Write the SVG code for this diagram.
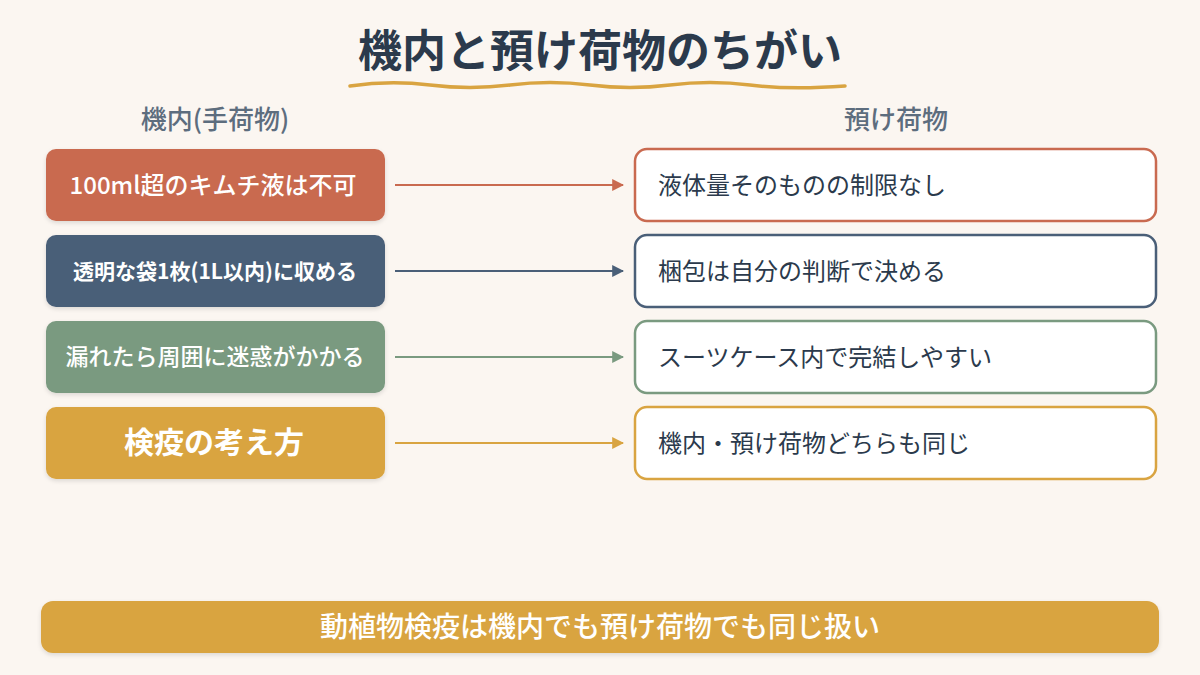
<svg xmlns="http://www.w3.org/2000/svg" width="1200" height="675" viewBox="0 0 1200 675">
<defs>
<filter id="sh" x="-10%" y="-20%" width="120%" height="150%"><feDropShadow dx="0" dy="2" stdDeviation="2" flood-color="#000" flood-opacity="0.12"/></filter>
<marker id="ar1" viewBox="0 0 10 10" refX="9" refY="5" markerWidth="6" markerHeight="6" orient="auto"><path d="M0,0 L10,5 L0,10 z" fill="#c96a50"/></marker>
<marker id="ar2" viewBox="0 0 10 10" refX="9" refY="5" markerWidth="6" markerHeight="6" orient="auto"><path d="M0,0 L10,5 L0,10 z" fill="#4a5f78"/></marker>
<marker id="ar3" viewBox="0 0 10 10" refX="9" refY="5" markerWidth="6" markerHeight="6" orient="auto"><path d="M0,0 L10,5 L0,10 z" fill="#7a9a80"/></marker>
<marker id="ar4" viewBox="0 0 10 10" refX="9" refY="5" markerWidth="6" markerHeight="6" orient="auto"><path d="M0,0 L10,5 L0,10 z" fill="#d9a441"/></marker>
</defs>
<style>
text{font-family:"Noto Sans CJK JP","Noto Sans",sans-serif;}
.title{font-size:44px;font-weight:700;fill:#2b3a4c;text-anchor:middle;}
.head{font-size:26px;font-weight:500;fill:#5d6d7e;text-anchor:middle;}
.lt{fill:#fff;text-anchor:middle;}
.w4{font-weight:400;}
.w5{font-weight:500;}
.w7{font-weight:700;}
.rbox{fill:#fff;stroke-width:2.5;}
.rt{font-size:24px;fill:#2b3a4c;font-weight:400;}
.conn{stroke-width:2;fill:none;}
</style>
<rect width="1200" height="675" fill="#fbf6f1"/>
<g id="title">
<text class="title" x="600" y="67">機内と預け荷物のちがい</text>
<path d="M350,86 Q390,80 430,85 T510,85 T590,85 T670,85 T750,85 T845,86" fill="none" stroke="#d9a441" stroke-width="3.5" stroke-linecap="round"/>
</g>
<g id="headers">
<text class="head" x="215" y="129">機内(手荷物)</text>
<text class="head" x="896" y="129">預け荷物</text>
</g>
<g id="left1"><rect x="46" y="149" width="339" height="72" rx="10" fill="#c96a50" filter="url(#sh)"/><text class="lt w5" x="213" y="194" font-size="24">100ml超のキムチ液は不可</text></g>
<g id="left2"><rect x="46" y="235" width="339" height="72" rx="10" fill="#4a5f78" filter="url(#sh)"/><text class="lt w7" x="215" y="279" font-size="21">透明な袋1枚(1L以内)に収める</text></g>
<g id="left3"><rect x="46" y="321" width="339" height="72" rx="10" fill="#7a9a80" filter="url(#sh)"/><text class="lt w5" x="215" y="365" font-size="23">漏れたら周囲に迷惑がかかる</text></g>
<g id="left4"><rect x="46" y="407" width="339" height="72" rx="10" fill="#d9a441" filter="url(#sh)"/><text class="lt w7" x="214" y="453" font-size="30">検疫の考え方</text></g>
<g id="right1"><rect class="rbox" x="635" y="149" width="521" height="72" rx="12" stroke="#c96a50"/><text class="rt" x="658" y="194">液体量そのものの制限なし</text></g>
<g id="right2"><rect class="rbox" x="635" y="235" width="521" height="72" rx="12" stroke="#4a5f78"/><text class="rt" x="658" y="280">梱包は自分の判断で決める</text></g>
<g id="right3"><rect class="rbox" x="635" y="321" width="521" height="72" rx="12" stroke="#7a9a80"/><text class="rt" x="658" y="366">スーツケース内で完結しやすい</text></g>
<g id="right4"><rect class="rbox" x="635" y="407" width="521" height="72" rx="12" stroke="#d9a441"/><text class="rt" x="658" y="452">機内・預け荷物どちらも同じ</text></g>
<g id="connectors">
<line class="conn" x1="395" y1="185" x2="623" y2="185" stroke="#c96a50" marker-end="url(#ar1)"/>
<line class="conn" x1="395" y1="271" x2="623" y2="271" stroke="#4a5f78" marker-end="url(#ar2)"/>
<line class="conn" x1="395" y1="357" x2="623" y2="357" stroke="#7a9a80" marker-end="url(#ar3)"/>
<line class="conn" x1="395" y1="443" x2="623" y2="443" stroke="#d9a441" marker-end="url(#ar4)"/>
</g>
<g id="footer"><rect x="41" y="601" width="1118" height="52" rx="12" fill="#d9a441" filter="url(#sh)"/><text class="lt w5" x="600" y="637" font-size="28">動植物検疫は機内でも預け荷物でも同じ扱い</text></g>
</svg>
